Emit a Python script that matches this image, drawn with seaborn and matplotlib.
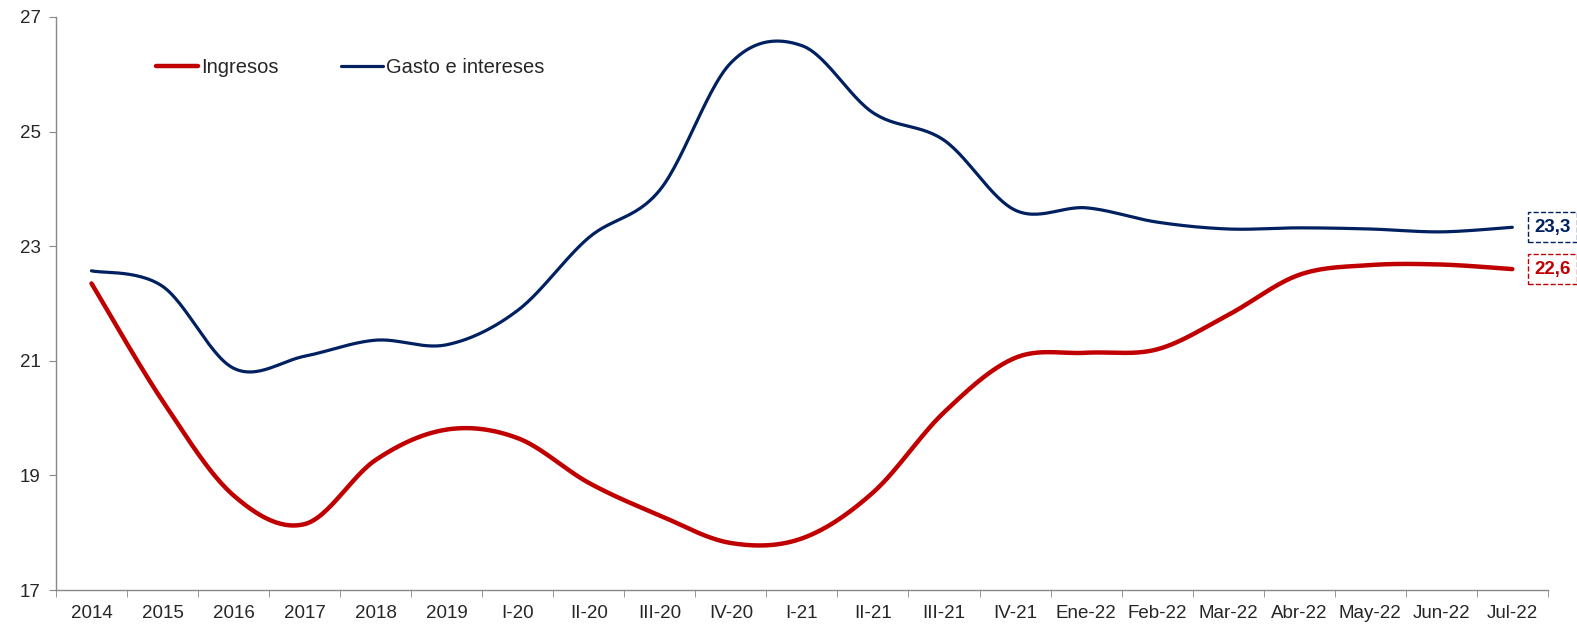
import matplotlib
matplotlib.use('Agg')
import matplotlib.pyplot as plt
from matplotlib.lines import Line2D
import numpy as np
import pandas as pd
import seaborn as sns

periods = ['2014', '2015', '2016', '2017', '2018', '2019',
           'I-20', 'II-20', 'III-20', 'IV-20',
           'I-21', 'II-21', 'III-21', 'IV-21',
           'Ene-22', 'Feb-22', 'Mar-22', 'Abr-22', 'May-22', 'Jun-22', 'Jul-22']
ingresos = [22.35, 20.3, 18.65, 18.15, 19.27, 19.8, 19.65, 18.87, 18.3, 17.82,
            17.9, 18.7, 20.1, 21.05, 21.14, 21.2, 21.8, 22.5, 22.67, 22.68, 22.6]
gasto = [22.57, 22.3, 20.87, 21.08, 21.36, 21.28, 21.88, 23.15, 23.98, 26.2,
         26.5, 25.33, 24.85, 23.63, 23.67, 23.42, 23.3, 23.32, 23.3, 23.25, 23.33]
series_names = ['Ingresos', 'Gasto e intereses']
colors = ['#C00000', '#002060']
widths = [3.2, 2.3]
end_labels = ['22,6', '23,3']


def smooth(x, y, n=30):
    """Excel-style smoothed line (cubic Bezier through every point)."""
    pts = np.column_stack([x, y]).astype(float)
    p = np.vstack([pts[0], pts, pts[-1]])
    out = []
    t = np.linspace(0, 1, n)[:, None]
    for i in range(len(pts) - 1):
        p0, p1, p2, p3 = p[i], p[i + 1], p[i + 2], p[i + 3]
        c1 = p1 + (p2 - p0) / 6
        c2 = p2 - (p3 - p1) / 6
        seg = ((1 - t) ** 3 * p1 + 3 * (1 - t) ** 2 * t * c1
               + 3 * (1 - t) * t ** 2 * c2 + t ** 3 * p2)
        out.append(seg if i == 0 else seg[1:])
    return np.vstack(out)


sns.set_style('white')
plt.rcParams['font.family'] = ['Liberation Sans', 'DejaVu Sans']

fig = plt.figure(figsize=(15.77, 6.29), dpi=100)
ax = fig.add_axes([0.0355, 0.062, 0.946, 0.911])

xpos = np.arange(len(periods))
for name, vals, col, lw in zip(series_names, [ingresos, gasto], colors, widths):
    curve = smooth(xpos, vals)
    df = pd.DataFrame({'x': curve[:, 0], 'y': curve[:, 1]})
    sns.lineplot(data=df, x='x', y='y', sort=False, estimator=None,
                 color=col, linewidth=lw, ax=ax)

for vals, col, lab in zip([ingresos, gasto], colors, end_labels):
    ax.annotate(lab, xy=(xpos[-1], vals[-1]), xytext=(29, 0),
                textcoords='offset points', ha='center', va='center',
                fontsize=13.5, fontweight='bold', color=col,
                annotation_clip=False,
                bbox=dict(boxstyle='square,pad=0.35', fc='white', ec=col,
                          ls='--', lw=1))

ax.set_xlim(-0.5, len(periods) - 0.5)
ax.set_ylim(17, 27)
ax.set_yticks([17, 19, 21, 23, 25, 27])
ax.set_xticks(xpos)
ax.set_xticklabels(periods)
ax.set_xticks(np.arange(-0.5, len(periods)), minor=True)
ax.tick_params(axis='x', which='major', length=0, pad=11, labelsize=13.5)
ax.tick_params(axis='x', which='minor', length=5, color='#888888',
               direction='out', bottom=True)
ax.tick_params(axis='y', length=5, color='#888888', direction='out',
               left=True, pad=6, labelsize=13.5)
ax.set_xlabel('')
ax.set_ylabel('')
for s in ['top', 'right']:
    ax.spines[s].set_visible(False)
for s in ['left', 'bottom']:
    ax.spines[s].set_color('#888888')
    ax.spines[s].set_linewidth(1)

handles = [Line2D([], [], color=c, lw=w) for c, w in zip(colors, widths)]
ax.legend(handles, series_names, loc='center left',
          bbox_to_anchor=(0.067, 0.911), ncol=2, frameon=False,
          fontsize=14.5, handlelength=2.1, handletextpad=0.15,
          columnspacing=3.1, borderaxespad=0, borderpad=0)

fig.savefig('out.png', dpi=100)
